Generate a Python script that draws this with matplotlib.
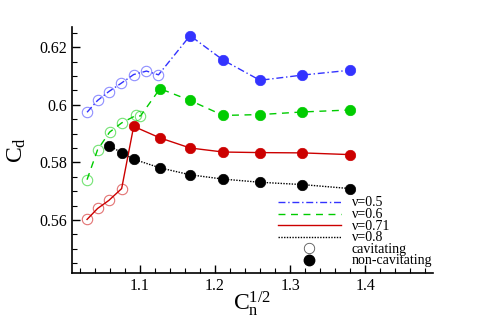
import matplotlib
matplotlib.use("Agg")
import matplotlib.pyplot as plt
from matplotlib.ticker import MultipleLocator, FormatStrFormatter
from matplotlib.lines import Line2D

plt.rcParams['font.family'] = ['Liberation Serif', 'DejaVu Serif']
plt.rcParams['mathtext.fontset'] = 'custom'
plt.rcParams['mathtext.rm'] = 'Liberation Serif'
plt.rcParams['mathtext.it'] = 'Liberation Serif'

# ---- data ----
blue_cav_x = [1.030, 1.044, 1.059, 1.075, 1.092, 1.109, 1.125]
blue_cav_y = [0.5974, 0.6015, 0.6046, 0.6074, 0.6105, 0.6117, 0.6104]
blue_nc_x = [1.167, 1.211, 1.260, 1.316, 1.380]
blue_nc_y = [0.6240, 0.6155, 0.6085, 0.6103, 0.6120]

green_cav_x = [1.030, 1.044, 1.060, 1.076, 1.095, 1.101]
green_cav_y = [0.5740, 0.5844, 0.5905, 0.5937, 0.5963, 0.5961]
green_nc_x = [1.127, 1.167, 1.211, 1.260, 1.316, 1.380]
green_nc_y = [0.6056, 0.6015, 0.5963, 0.5966, 0.5975, 0.5982]

red_cav_x = [1.030, 1.044, 1.059, 1.076]
red_cav_y = [0.5602, 0.5640, 0.5668, 0.5709]
red_nc_x = [1.092, 1.127, 1.167, 1.211, 1.260, 1.316, 1.380]
red_nc_y = [0.5925, 0.5885, 0.5850, 0.5836, 0.5834, 0.5833, 0.5827]

black_nc_x = [1.059, 1.076, 1.092, 1.127, 1.167, 1.211, 1.260, 1.316, 1.380]
black_nc_y = [0.5858, 0.5834, 0.5811, 0.5781, 0.5757, 0.5742, 0.5731, 0.5723, 0.5709]

labels = ['\u03bd=0.5', '\u03bd=0.6', '\u03bd=0.71', '\u03bd=0.8']
colors = ['#3333ff', '#00cc00', '#cc0000', '#000000']
dashes = [(5, 2, 1, 2), (5, 4), (None, None), (1, 1)]

fig = plt.figure(figsize=(4.81, 3.21), dpi=100)
ax = fig.add_axes([0.1497, 0.1495, 0.7505, 0.7664])

series = [
    (blue_cav_x, blue_cav_y, blue_nc_x, blue_nc_y),
    (green_cav_x, green_cav_y, green_nc_x, green_nc_y),
    (red_cav_x, red_cav_y, red_nc_x, red_nc_y),
    ([], [], black_nc_x, black_nc_y),
]

ms = 7.5
for (cx, cy, nx, ny), c, d in zip(series, colors, dashes):
    lx = list(cx) + list(nx)
    ly = list(cy) + list(ny)
    ln, = ax.plot(lx, ly, color=c, lw=1.0, zorder=2)
    if d[0] is not None:
        ln.set_dashes(d)
    if cx:
        ax.plot(cx, cy, 'o', ls='none', ms=ms, mfc='none',
                mec=c, mew=0.8, alpha=0.55, zorder=3)
    ax.plot(nx, ny, 'o', ls='none', ms=ms, mfc=c, mec=c, mew=0.5, zorder=3)

ax.set_xlim(1.01, 1.49)
ax.set_ylim(0.5416, 0.627)
ax.xaxis.set_major_locator(MultipleLocator(0.1))
ax.xaxis.set_minor_locator(MultipleLocator(0.02))
ax.yaxis.set_major_locator(MultipleLocator(0.02))
ax.yaxis.set_minor_locator(MultipleLocator(0.005))
ax.yaxis.set_major_formatter(FormatStrFormatter('%g'))
ax.xaxis.set_major_formatter(FormatStrFormatter('%g'))

for s in ['top', 'right']:
    ax.spines[s].set_visible(False)
for s in ['left', 'bottom']:
    ax.spines[s].set_linewidth(1.2)
ax.tick_params(which='major', direction='in', length=6, width=1.0,
               labelsize=11.5, pad=3.5)
ax.tick_params(which='minor', direction='in', length=3.5, width=0.8)

ax.set_ylabel(r'C$_\mathrm{d}$', fontsize=17, labelpad=8)
ax.set_xlabel(r'C$_\mathrm{n}^{1/2}$', fontsize=17, labelpad=-3)

handles = []
for lab, c, d in zip(labels, colors, dashes):
    h = Line2D([], [], color=c, lw=1.0)
    if d[0] is not None:
        h.set_dashes(d)
    handles.append(h)
handles.append(Line2D([], [], marker='o', ls='none', ms=ms, mfc='none',
                      mec='#555555', mew=0.6))
handles.append(Line2D([], [], marker='o', ls='none', ms=ms, mfc='k', mec='k'))
leg_labels = labels + ['cavitating', 'non-cavitating']
leg = ax.legend(handles, leg_labels, loc='lower right',
                bbox_to_anchor=(0.998, 0.0227), frameon=False, fontsize=10,
                handlelength=4.5, handletextpad=0.8, labelspacing=-0.1,
                borderpad=0, borderaxespad=0, handleheight=0.5)

fig.savefig('out.png', dpi=100)
